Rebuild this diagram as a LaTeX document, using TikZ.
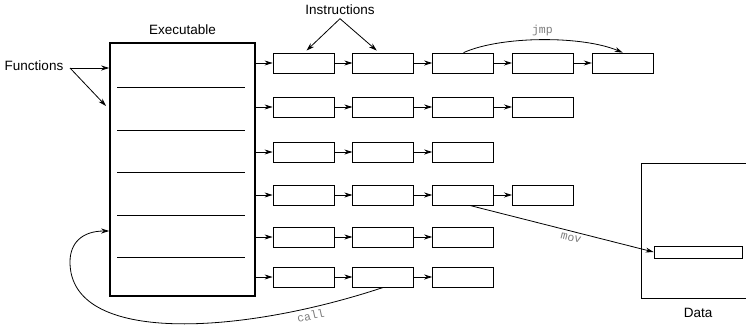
\documentclass[tikz,border=0pt]{standalone}
\usepackage{fontspec}
\setmainfont{Liberation Sans}
\setmonofont{Liberation Mono}
\usetikzlibrary{arrows.meta, positioning, calc}
\definecolor{opgray}{RGB}{125,125,125}

\begin{document}
\begin{tikzpicture}[x=1pt, y=-1pt, node distance=18pt, line width=0.8pt,
  instr/.style={draw, minimum width=61pt, minimum height=20pt, inner sep=0pt},
  lbl/.style={font=\fontsize{13.5}{16}\selectfont},
  op/.style={font=\ttfamily\fontsize{11.5}{14}\selectfont, text=opgray},
  >={Stealth[length=8pt, width=5pt]}]
  \useasboundingbox (0,0) rectangle (746,332);
  % executable with its functions
  \node[draw, line width=1.6pt, minimum width=145pt, minimum height=253pt] (exe) at (182.5,169.5) {};
  \node[lbl] at (182.5,30) {Executable};
  \foreach \y in {87,130,172,215,257} \draw (117,\y) -- (245,\y);
  % instruction chains
  \foreach \r/\y/\n in {1/63/5, 2/107/4, 3/152/3, 4/195/4, 5/237/3, 6/277/3} {
    \node[instr] (r\r-c1) at (303.5,\y) {};
    \draw[->] (exe.east |- r\r-c1) -- (r\r-c1);
    \foreach \c [remember=\c as \p (initially 1)] in {2,...,\n} {
      \node[instr, right=of r\r-c\p] (r\r-c\c) {};
      \draw[->] (r\r-c\p) -- (r\r-c\c);
    }
  }
  % labels
  \node[lbl] (fn) at (34,66) {Functions};
  \coordinate (fnsrc) at (70,68);
  \coordinate (fnend) at (106,106);
  \draw[->] (fnsrc) -- (exe.west |- fnsrc);
  \draw[->] (fnsrc) -- (fnend);
  \node[lbl] (ins) at (340,10) {Instructions};
  \draw[->] (ins.south) -- ([xshift=3pt, yshift=2pt]r1-c1.north);
  \draw[->] (ins.south) -- ([xshift=-6.5pt, yshift=2pt]r1-c2.north);
  % data (runs off the right edge)
  \draw (746,163) -- (641,163) -- (641,298) -- (746,298);
  \node[lbl] at (698,313) {Data};
  \node[draw, minimum width=88pt, minimum height=12pt, inner sep=0pt] (cell) at (698,252) {};
  % jumps and calls
  \draw[->] ([xshift=0.5pt]r1-c3.north) .. controls +(38,-17) and +(-40,-17) .. node[op, above] {jmp} (r1-c5.north);
  \draw[->] ([xshift=6.5pt]r4-c3.south) -- node[op, below, sloped, pos=0.56] {mov} (cell.west);
  \draw[->] (r6-c2.south) .. controls (240,335) and (70,345) .. node[op, below, sloped, pos=0.17] {call} (70,262)
    .. controls (70,243) and (82,231) .. ($(exe.west)+(0,61.5)$);
\end{tikzpicture}
\end{document}
